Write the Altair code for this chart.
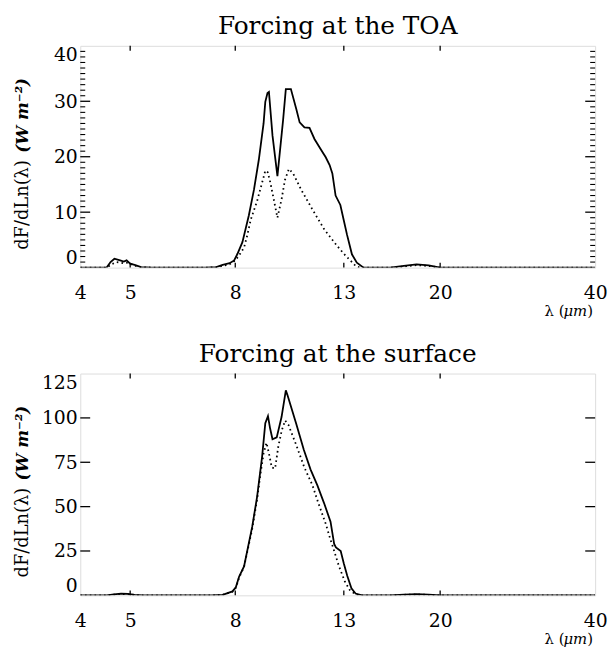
import altair as alt
import pandas as pd

# ---------------- data ----------------
x_tick_values = [4, 5, 8, 13, 20, 40]
x_inner_ticks = [5, 8, 13, 20]

top_title = "Forcing at the TOA"
bot_title = "Forcing at the surface"
y_title_main = "dF/dLn(λ)"
y_title_unit = "(W m⁻²)"
x_title_parts = ["λ (", "μm", ")"]

top_yticks = [0, 10, 20, 30, 40]
top_major = [10, 20, 30]
top_minor = [1, 2, 3, 4, 5, 6, 7, 8, 9, 11, 12, 13, 14, 15, 16, 17, 18, 19,
             21, 22, 23, 24, 25, 26, 27, 28, 29, 31, 32, 33, 34, 35, 36, 37, 38, 39]
bot_yticks = [0, 25, 50, 75, 100, 125]
bot_major = [25, 50, 75, 100]

# TOA, solid curve
top_solid_lam = [4.0, 4.5, 4.58, 4.66, 4.78, 4.86, 4.92, 5.0, 5.1, 5.25, 5.5, 7.0, 7.35,
                 7.56, 7.8, 7.96, 8.08, 8.26, 8.5, 8.7, 8.89, 9.08, 9.15, 9.24, 9.3, 9.45,
                 9.66, 9.91, 10.03, 10.26, 10.51, 10.67, 10.9, 11.15, 11.4, 11.7, 11.99,
                 12.2, 12.35, 12.53, 12.8, 13.0, 13.19, 13.48, 13.78, 14.2, 16.0, 17.0,
                 18.0, 19.0, 20.0, 40.0]
top_solid_val = [0, 0, 1.0, 1.6, 1.3, 1.1, 1.3, 0.7, 0.5, 0.1, 0, 0, 0.1,
                 0.5, 0.8, 1.3, 2.5, 4.6, 9.4, 14.1, 19.5, 26.0, 29.9, 31.5, 31.7, 23.8,
                 16.5, 26.7, 32.2, 32.2, 28.6, 26.2, 25.3, 25.2, 23.2, 21.5, 19.9,
                 18.5, 17.0, 13.0, 11.3, 8.5, 5.9, 2.4, 0.9, 0, 0, 0.3,
                 0.6, 0.4, 0, 0]
# TOA, dotted curve
top_dot_lam = [4.0, 4.5, 4.6, 4.7, 4.85, 4.95, 5.05, 5.2, 5.5, 7.0, 7.4, 7.8, 8.0, 8.15,
               8.32, 8.45, 8.57, 8.82, 9.08, 9.15, 9.25, 9.35, 9.49, 9.66, 9.84, 9.99,
               10.17, 10.36, 10.75, 11.31, 11.91, 12.62, 13.09, 13.48, 13.74, 14.0, 16.0,
               17.0, 18.0, 19.0, 20.0, 40.0]
top_dot_val = [0, 0, 0.6, 1.0, 0.8, 0.9, 0.5, 0.1, 0, 0, 0.1, 0.6, 1.3, 2.3,
               3.6, 6.0, 8.6, 12.0, 16.3, 17.5, 17.2, 15.5, 12.6, 9.0, 12.3, 15.8,
               17.8, 17.0, 14.0, 10.4, 6.9, 3.9, 2.2, 1.0, 0.2, 0, 0,
               0.2, 0.45, 0.3, 0, 0]

# surface, solid curve
bot_solid_lam = [4.0, 4.5, 4.65, 4.8, 4.95, 5.1, 5.3, 7.2, 7.56, 7.9, 8.02, 8.14, 8.32,
                 8.5, 8.63, 8.82, 9.02, 9.15, 9.26, 9.35, 9.45, 9.63, 9.84, 10.03, 10.1,
                 10.5, 10.87, 11.2, 11.55, 11.9, 12.25, 12.45, 12.55, 12.82, 13.0, 13.2,
                 13.45, 13.7, 14.1, 16.0, 17.0, 18.0, 19.0, 20.0, 40.0]
bot_solid_val = [0, 0, 0.5, 1.0, 0.8, 0.3, 0, 0, 0.3, 2.2, 4.5, 10.6, 16.3,
                 29.4, 38.7, 55.5, 78.0, 97.0, 101.0, 94.0, 88.0, 89.0, 100.5, 115.5, 113.0,
                 97.0, 82.0, 71.0, 62.0, 52.0, 41.5, 29.0, 27.0, 25.0, 18.0, 11.0,
                 4.0, 1.0, 0, 0, 0.4, 0.7, 0.4, 0, 0]
# surface, dotted curve
bot_dot_lam = [4.0, 4.5, 4.65, 4.8, 4.95, 5.1, 5.3, 7.2, 7.56, 7.9, 8.02, 8.14, 8.32,
               8.5, 8.63, 8.82, 8.95, 9.08, 9.2, 9.3, 9.42, 9.56, 9.7, 9.85, 10.0, 10.15,
               10.5, 10.9, 11.3, 11.6, 12.0, 12.2, 12.45, 12.7, 13.05, 13.35, 13.7, 14.0,
               16.0, 17.0, 18.0, 19.0, 20.0, 40.0]
bot_dot_val = [0, 0, 0.4, 0.8, 0.6, 0.2, 0, 0, 0.3, 2.0, 4.2, 10.0, 16.0,
               28.5, 37.5, 54.0, 68.0, 80.0, 86.0, 80.0, 72.0, 71.5, 84.0, 93.0, 98.5, 96.0,
               85.0, 72.0, 62.0, 52.0, 40.0, 33.0, 25.0, 17.0, 8.0, 3.0, 0.5, 0,
               0, 0.3, 0.5, 0.3, 0, 0]

# ---------------- layout ----------------
W = 520
H = 224
SERIF = "DejaVu Serif"
XT_Y = H + 44


def panel(title, s_lam, s_val, d_lam, d_val, yticks, ymax, major, minor):
    xs = alt.Scale(type="log", domain=[4, 40], nice=False, zero=False)
    ys = alt.Scale(domain=[0, ymax], nice=False, zero=False)
    x_axis = alt.Axis(values=x_tick_values, format="d", labelFlush=False, ticks=False,
                      domain=False, grid=False, title=None, labelPadding=16,
                      labelFont=SERIF, labelFontSize=19, labelColor="black")
    y_axis = alt.Axis(values=yticks, format="d", labelFlush=True, ticks=False,
                      domain=False, grid=False, title=None, labelPadding=3,
                      labelFont=SERIF, labelFontSize=19, labelColor="black")

    def X():
        return alt.X("lam:Q", scale=xs, axis=x_axis)

    def Y():
        return alt.Y("val:Q", scale=ys, axis=y_axis)

    solid = alt.Chart(pd.DataFrame({"lam": s_lam, "val": s_val})).mark_line(
        color="black", strokeWidth=1.8, clip=True
    ).encode(x=X(), y=Y())
    dotted = alt.Chart(pd.DataFrame({"lam": d_lam, "val": d_val})).mark_line(
        color="black", strokeWidth=1.8, strokeDash=[1.6, 3.2], clip=True
    ).encode(x=X(), y=Y())

    xt = pd.DataFrame({"lam": x_inner_ticks})
    xt_bot = alt.Chart(xt).mark_rule(color="black", strokeWidth=1.3).encode(
        x=X(), y=alt.value(H), y2=alt.value(H - 5))
    xt_top = alt.Chart(xt).mark_rule(color="black", strokeWidth=1.3).encode(
        x=X(), y=alt.value(0), y2=alt.value(5))

    yt = pd.DataFrame({"val": major})
    yt_l = alt.Chart(yt).mark_rule(color="black", strokeWidth=1.3).encode(
        y=Y(), x=alt.value(0), x2=alt.value(10))
    yt_r = alt.Chart(yt).mark_rule(color="black", strokeWidth=1.3).encode(
        y=Y(), x=alt.value(W - 10), x2=alt.value(W))
    layers = [solid, dotted, xt_bot, xt_top, yt_l, yt_r]
    if minor:
        ym = pd.DataFrame({"val": minor})
        layers.append(alt.Chart(ym).mark_rule(color="black", strokeWidth=1.1).encode(
            y=Y(), x=alt.value(0), x2=alt.value(5)))
        layers.append(alt.Chart(ym).mark_rule(color="black", strokeWidth=1.1).encode(
            y=Y(), x=alt.value(W - 5), x2=alt.value(W)))

    # y-axis title (two styles), rotated
    t1 = alt.Chart(pd.DataFrame({"s": [y_title_main]})).mark_text(
        angle=270, align="left", baseline="middle", font=SERIF, fontSize=18,
        color="black"
    ).encode(text="s:N", x=alt.value(-58), y=alt.value(206))
    t2 = alt.Chart(pd.DataFrame({"s": [y_title_unit]})).mark_text(
        angle=270, align="left", baseline="middle", font=SERIF, fontSize=17,
        fontStyle="italic", fontWeight="bold", color="black"
    ).encode(text="s:N", x=alt.value(-58), y=alt.value(108))
    # x-axis title pieces
    xa = alt.Chart(pd.DataFrame({"s": [x_title_parts[0]]})).mark_text(
        align="right", baseline="middle", font=SERIF, fontSize=15, color="black"
    ).encode(text="s:N", x=alt.value(W - 31), y=alt.value(XT_Y))
    xb = alt.Chart(pd.DataFrame({"s": [x_title_parts[1]]})).mark_text(
        align="right", baseline="middle", font=SERIF, fontSize=15,
        fontStyle="italic", color="black"
    ).encode(text="s:N", x=alt.value(W - 8), y=alt.value(XT_Y))
    xc = alt.Chart(pd.DataFrame({"s": [x_title_parts[2]]})).mark_text(
        align="right", baseline="middle", font=SERIF, fontSize=15, color="black"
    ).encode(text="s:N", x=alt.value(W - 2), y=alt.value(XT_Y))
    layers += [t1, t2, xa, xb, xc]

    return alt.layer(*layers).properties(
        width=W, height=H,
        title=alt.TitleParams(text=title, font=SERIF, fontSize=25,
                              fontWeight="normal", color="black",
                              anchor="middle", frame="group", offset=6),
    )


top = panel(top_title, top_solid_lam, top_solid_val, top_dot_lam, top_dot_val,
            top_yticks, 40, top_major, top_minor)
bot = panel(bot_title, bot_solid_lam, bot_solid_val, bot_dot_lam, bot_dot_val,
            bot_yticks, 125, bot_major, [])

chart = alt.vconcat(top, bot, spacing=21).properties(
    padding={"left": 5, "top": 2, "right": 0, "bottom": 0}
).configure_view(stroke="black", strokeWidth=1.7).configure(background="white")

chart.save("out.html", embed_options={"renderer": "svg", "actions": False})
